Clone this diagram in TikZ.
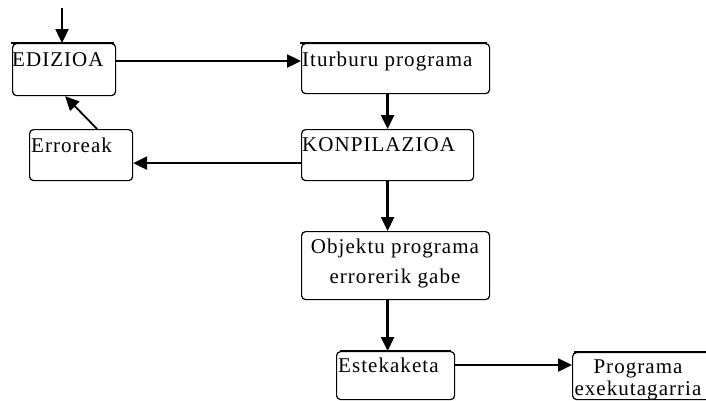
\documentclass[tikz,border=0pt]{standalone}
\usepackage{fontspec}
\setmainfont{Liberation Serif}
\newfontfamily\boxfont[LetterSpace=5]{Liberation Serif}
\usetikzlibrary{arrows.meta}
\tikzset{
  boxnode/.style={draw, rounded corners=4pt, line width=1.2pt, inner sep=0pt, anchor=north west},
  toprule/.style={line width=2.8pt, line cap=rect},
  txt/.style={font=\boxfont\fontsize{21}{25}\selectfont, inner sep=0pt},
  arr/.style={line width=2.4pt, -{Triangle[length=14pt,width=13pt]}},
  thinarr/.style={line width=1.8pt, -{Triangle[length=14pt,width=13pt]}}
}
\begin{document}
\begin{tikzpicture}[x=1pt,y=-1pt]
\useasboundingbox (0,0) rectangle (706,400);
\clip (0,0) rectangle (706,400);
% boxes
\node[boxnode, minimum width=103pt, minimum height=52pt] (ed) at (12,43) {};
\node[boxnode, minimum width=188pt, minimum height=50pt] (it) at (301,43) {};
\node[boxnode, minimum width=172pt, minimum height=51pt] (kon) at (301,129) {};
\node[boxnode, minimum width=103pt, minimum height=51pt] (err) at (29,129) {};
\node[boxnode, minimum width=188pt, minimum height=68pt] (obj) at (301,231) {};
\node[boxnode, minimum width=118pt, minimum height=48pt] (est) at (336,351) {};
\node[boxnode, minimum width=160pt, minimum height=47pt] (prog) at (572,352) {};
% thick top edges
\draw[toprule] (ed.north west) -- ([xshift=-4pt]ed.north east);
\draw[toprule] (it.north west) -- ([xshift=-5pt]it.north east);
\draw[toprule] ([xshift=3pt]prog.north west) -- (prog.north east);
\draw[line width=1.8pt] ([xshift=4pt]est.north west) -- ([xshift=-4pt]est.north east);
% texts
\node[txt, anchor=base west] (edt) at (12,66) {EDIZIOA};
\node[txt, anchor=base west] (itt) at (302,66) {Iturburu programa};
\node[txt, anchor=base west] (kont) at (302,151) {KONPILAZIOA};
\node[txt, anchor=base west] (errt) at (31,152) {Erroreak};
\node[txt, anchor=base] (objt1) at (395,253) {Objektu programa};
\node[txt, anchor=base] (objt2) at (395,283) {errorerik gabe};
\node[txt, anchor=base west] (estt) at (338,372) {Estekaketa};
\node[txt, anchor=base] (progt1) at (638,373) {Programa};
\node[txt, anchor=base] (progt2) at (638,395) {exekutagarria};
% connectors
\coordinate (start) at (62,8);
\draw[arr] (start) -- (start |- ed.north);
\draw[arr] ([yshift=-18pt]ed.north east) -- ([yshift=-18pt]ed.north east -| it.west);
\draw[arr] (kon.north |- it.south) -- (kon.north);
\draw[arr] ([yshift=-8pt]kon.west) -- ([yshift=-8pt]kon.west -| err.east);
\draw[thinarr] ([xshift=16pt]err.north) -- ([xshift=1pt]ed.south);
\draw[arr] (kon.south) -- (kon.south |- obj.north);
\draw[arr] (kon.south |- obj.south) -- (kon.south |- est.north);
\draw[arr] ([yshift=-14pt]est.north east) -- ([yshift=-14pt]est.north east -| prog.west);
\end{tikzpicture}
\end{document}
